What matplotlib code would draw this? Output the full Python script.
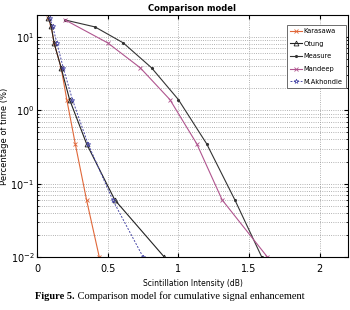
import numpy as np
import matplotlib
matplotlib.use("Agg")
import matplotlib.pyplot as plt

# values (x in dB, y in % of time)
kar_x = [0.08, 0.10, 0.12, 0.17, 0.21, 0.27, 0.35, 0.44]
kar_y = [18, 14, 8.3, 3.8, 1.4, 0.35, 0.06, 0.01]

otu_x = [0.08, 0.10, 0.12, 0.17, 0.23, 0.35, 0.55, 0.90]
otu_y = [18, 14, 8.3, 3.8, 1.4, 0.35, 0.06, 0.01]

mea_x = [0.20, 0.41, 0.61, 0.81, 1.00, 1.20, 1.40, 1.59]
mea_y = [17, 13.7, 8.3, 3.8, 1.4, 0.35, 0.06, 0.01]

man_x = [0.20, 0.50, 0.73, 0.94, 1.13, 1.31, 1.63]
man_y = [17, 8.3, 3.8, 1.4, 0.35, 0.06, 0.01]

akh_x = [0.09, 0.11, 0.14, 0.185, 0.25, 0.36, 0.535, 0.75]
akh_y = [18, 14, 8.3, 3.8, 1.4, 0.35, 0.06, 0.01]

narrow = ['Liberation Sans Narrow', 'DejaVu Sans']

fig = plt.figure(figsize=(3.5, 3.1), dpi=100)
ax = fig.add_axes([0.106, 0.171, 0.888, 0.781])

ax.plot(kar_x, kar_y, color='#e0683a', lw=0.8, marker='x', ms=2.5, mew=0.6, label='Karasawa')
ax.plot(otu_x, otu_y, color='#222222', lw=0.8, marker='^', ms=3.5, mfc='none', mew=0.6, label='Otung')
ax.plot(mea_x, mea_y, color='#333333', lw=0.8, marker='.', ms=2.5, label='Measure')
ax.plot(man_x, man_y, color='#b0558f', lw=0.8, marker='x', ms=2.5, mew=0.6, label='Mandeep')
ax.plot(akh_x, akh_y, color='#4a4aa8', lw=0.7, ls='--', dashes=(2, 1.5), marker='*', ms=3.5,
        mfc='none', mew=0.5, label='M.Akhondie')

ax.set_yscale('log')
ax.set_xlim(0, 2.2)
ax.set_ylim(0.01, 20)
ax.set_xticks([0, 0.5, 1, 1.5, 2])
ax.set_xticklabels(['0', '0.5', '1', '1.5', '2'], family=narrow)
ax.tick_params(which='both', direction='in', top=True, right=True, labelsize=7, length=3)
ax.tick_params(axis='y', pad=2)
ax.tick_params(axis='x', pad=5)
ax.tick_params(which='minor', length=1.5)
ax.grid(True, which='major', ls=':', lw=0.6, color='#999999')
ax.grid(True, which='minor', axis='y', ls=':', lw=0.6, color='#999999')

ax.set_title('Comparison model', fontsize=6, fontweight='bold', family=narrow, pad=3)
ax.set_xlabel('Scintillation Intensity (dB)', fontsize=5.5, family=narrow)
ax.xaxis.set_label_coords(0.5, -0.09)
ax.set_ylabel('Percentage of time (%)', fontsize=6, family=narrow)
ax.yaxis.set_label_coords(-0.092, 0.5)

leg = ax.legend(loc='upper right', bbox_to_anchor=(0.998, 0.965), prop={'family': narrow, 'size': 4.8},
                handlelength=1.7, handletextpad=0.3, borderpad=0.5, labelspacing=1.0,
                borderaxespad=0.2, fancybox=False, framealpha=1, edgecolor='#555555')
leg.get_frame().set_linewidth(0.6)

t1 = fig.text(0.1, 0.035, 'Figure 5.', family='Liberation Serif', fontweight='bold', fontsize=7.5)
ax.annotate(' Comparison model for cumulative signal enhancement', xy=(1, 0), xycoords=t1,
            va='bottom', ha='left', family='Liberation Serif', fontsize=7.5, annotation_clip=False)

fig.savefig('out.png', dpi=100)
